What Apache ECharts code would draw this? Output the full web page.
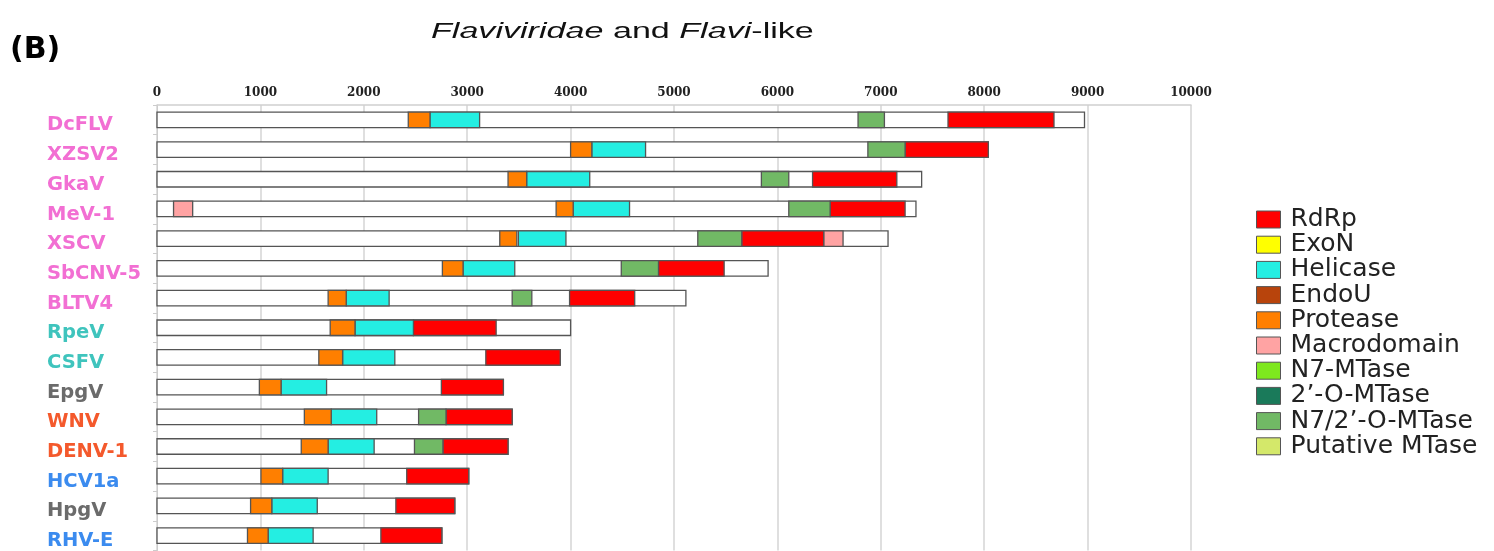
<!DOCTYPE html>
<html>
<head>
<meta charset="utf-8">
<script src="https://cdn.jsdelivr.net/npm/echarts@6/dist/echarts.min.js"></script>
<style>
  html, body { margin: 0; padding: 0; background: #fff; }
  #chart { width: 1494px; height: 551px; }
</style>
</head>
<body>
<div id="chart"></div>
<script>
// ---- data ----
const viruses = ['DcFLV','XZSV2','GkaV','MeV-1','XSCV','SbCNV-5','BLTV4','RpeV','CSFV','EpgV','WNV','DENV-1','HCV1a','HpgV','RHV-E'];
const virusGroup = ['pink','pink','pink','pink','pink','pink','pink','teal','teal','gray','orange','orange','blue','gray','blue'];
const genomeLength = [8970, 8040, 7395, 7340, 7070, 5910, 5115, 4000, 3900, 3350, 3435, 3395, 3015, 2880, 2755];

// [virus index, start, end]
const rdrp = [[0,7650,8675],[1,7235,8040],[2,6340,7155],[3,6510,7235],[4,5655,6450],[5,4850,5485],[6,3990,4620],[7,2480,3280],[8,3180,3900],[9,2750,3350],[10,2795,3435],[11,2765,3395],[12,2415,3015],[13,2310,2880],[14,2165,2755]];
const exoN = [];
const helicase = [[0,2640,3120],[1,4205,4725],[2,3575,4185],[3,4025,4570],[4,3495,3955],[5,2960,3460],[6,1830,2245],[7,1915,2480],[8,1795,2300],[9,1200,1640],[10,1685,2125],[11,1655,2100],[12,1215,1655],[13,1110,1550],[14,1075,1510]];
const endoU = [];
const protease = [[0,2430,2640],[1,4000,4205],[2,3395,3575],[3,3860,4025],[4,3315,3480],[5,2760,2960],[6,1655,1830],[7,1675,1915],[8,1565,1795],[9,990,1200],[10,1425,1685],[11,1395,1655],[12,1005,1215],[13,905,1110],[14,875,1075]];
const macrodomain = [[3,160,345],[4,6450,6635]];
const n7MTase = [];
const o2MTase = [];
const n7o2MTase = [[0,6780,7035],[1,6875,7235],[2,5845,6110],[3,6110,6510],[4,5230,5655],[5,4490,4850],[6,3435,3625],[10,2530,2795],[11,2490,2765]];
const putativeMTase = [];

const domainNames = ['RdRp','ExoN','Helicase','EndoU','Protease','Macrodomain','N7-MTase','2\u2019-O-MTase','N7/2\u2019-O-MTase','Putative MTase'];
const domainData = [rdrp, exoN, helicase, endoU, protease, macrodomain, n7MTase, o2MTase, n7o2MTase, putativeMTase];

// ---- styles ----
const domainColors = ['#ff0000','#ffff00','#24eee2','#b8440c','#ff7f00','#ffa3a3','#7ee81e','#1a7a5a','#71b965','#d4e86a'];
const groupColors = { pink: '#f26fd3', teal: '#3fc4bd', gray: '#6b6b6b', orange: '#f4592c', blue: '#3b8bef' };

function renderSeg(params, api) {
  const idx = api.value(0);
  const p0 = api.coord([api.value(1), idx]);
  const p1 = api.coord([api.value(2), idx]);
  const h = 15.5;
  return {
    type: 'rect',
    shape: { x: p0[0], y: p0[1] - h / 2, width: p1[0] - p0[0], height: h },
    style: { fill: api.visual('color'), stroke: '#555', lineWidth: 1.3 }
  };
}

const series = [{
  name: 'Genome',
  type: 'custom',
  renderItem: renderSeg,
  encode: { x: [1, 2], y: 0 },
  itemStyle: { color: '#ffffff' },
  z: 2,
  data: genomeLength.map((len, i) => [i, 0, len])
}];
domainNames.forEach((name, k) => {
  series.push({
    name: name,
    type: 'custom',
    renderItem: renderSeg,
    encode: { x: [1, 2], y: 0 },
    itemStyle: { color: domainColors[k] },
    z: 3,
    data: domainData[k]
  });
});

const labelRich = {};
Object.keys(groupColors).forEach(g => {
  labelRich[g] = { color: groupColors[g], fontFamily: 'DejaVu Sans', fontWeight: 'bold', fontSize: 19.5, padding: [11, 0, 0, 0] };
});

const chart = echarts.init(document.getElementById('chart'));
chart.setOption({
  animation: false,
  backgroundColor: '#ffffff',
  graphic: [
    { type: 'text', x: 10, y: 35,
      style: { text: '(B)', font: 'bold 30px "DejaVu Sans"', fill: '#000' } },
    { type: 'text', x: 431, y: 21, scaleX: 1.55,
      style: {
        text: '{i|Flaviviridae} and {i|Flavi}-like',
        font: '22px "Liberation Sans"', fill: '#111',
        rich: { i: { fontStyle: 'italic', fontSize: 22, fontFamily: 'Liberation Sans', fill: '#111' } }
      } }
  ],
  legend: {
    orient: 'vertical',
    left: 1251, top: 202,
    data: domainNames,
    itemWidth: 24, itemHeight: 17, itemGap: 0.2,
    icon: 'rect',
    itemStyle: { borderColor: '#555', borderWidth: 1 },
    selectedMode: false,
    textStyle: { fontFamily: 'DejaVu Sans', fontSize: 25, color: '#222', padding: [0, 0, 0, 5] }
  },
  grid: { left: 157, top: 105, width: 1034, height: 449, containLabel: false },
  xAxis: {
    type: 'value', position: 'top',
    min: 0, max: 10000, interval: 1000,
    axisLine: { show: true, lineStyle: { color: '#d0d0d0', width: 1.5 } },
    axisTick: { show: false },
    axisLabel: { margin: 6, fontFamily: 'DejaVu Serif', fontWeight: 'bold', fontSize: 12, color: '#222',
      formatter: (v) => String(v) },
    splitLine: { show: true, lineStyle: { color: '#d4d4d4', width: 1.5 } }
  },
  yAxis: {
    type: 'category', inverse: true,
    data: viruses,
    axisLine: { show: true, lineStyle: { color: '#cccccc', width: 1 } },
    axisTick: { show: true, length: 4, lineStyle: { color: '#cccccc' } },
    axisLabel: {
      align: 'left', margin: 110,
      fontFamily: 'DejaVu Sans', fontWeight: 'bold', fontSize: 19.5,
      formatter: (value, index) => '{' + virusGroup[index] + '|' + value + '}',
      rich: labelRich
    },
    splitLine: { show: false }
  },
  series: series
});
</script>
</body>
</html>
